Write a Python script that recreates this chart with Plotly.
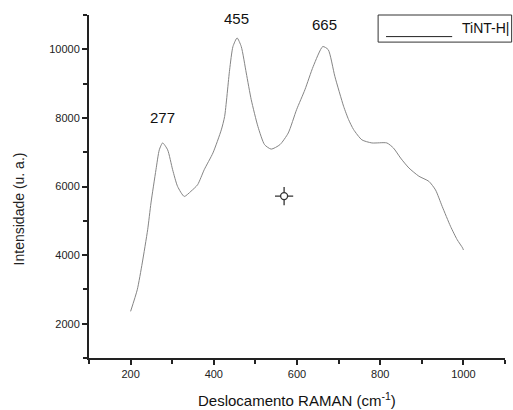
import plotly.graph_objects as go

raman_shift = [200, 216, 228, 241, 249, 261, 269, 277, 289, 301, 313, 329, 345, 361, 377,
               398, 418, 426, 438, 446, 456, 466, 478, 490, 506, 522, 538, 559, 579, 599,
               619, 639, 662, 675, 691, 712, 724, 736, 756, 780, 816, 832, 849, 869, 893,
               917, 933, 949, 969, 985, 998, 1000]
intensity = [2360, 2990, 3770, 4740, 5520, 6490, 7070, 7270, 7070, 6490, 6000, 5710, 5860, 6050, 6490,
             6980, 7650, 8040, 9400, 10080, 10330, 10080, 9310, 8530, 7750, 7220, 7090, 7220, 7560, 8240,
             8820, 9500, 10080, 9990, 9210, 8340, 7950, 7660, 7360, 7270, 7270, 7120, 6830, 6540, 6300,
             6150, 5900, 5420, 4840, 4450, 4210, 4150]

peak_labels = ["277", "455", "665"]
peak_x = [277, 455, 667]
peak_y = [8000, 10900, 10720]

marker_x = [569]
marker_y = [5720]

series_name = "TiNT-H"
x_title = "Deslocamento RAMAN (cm<sup>-1</sup>)"
y_title = "Intensidade (u. a.)"
x_ticks = [200, 400, 600, 800, 1000]
y_ticks = [2000, 4000, 6000, 8000, 10000]
y_tick_text = ["2000", "4000", "6000", "8000", "10000"]

FONT = "Liberation Sans, Arial"

fig = go.Figure()
fig.add_trace(go.Scatter(x=raman_shift, y=intensity, mode="lines",
                         line=dict(color="#858585", width=1, shape="spline", smoothing=0.6),
                         name=series_name, showlegend=False))
# crosshair marker: thin cross beneath a small white-filled circle
fig.add_trace(go.Scatter(x=marker_x, y=marker_y, mode="markers",
                         marker=dict(symbol="cross-thin-open", size=13, color="#333333",
                                     line=dict(width=1.3, color="#333333")),
                         showlegend=False))
fig.add_trace(go.Scatter(x=marker_x, y=marker_y, mode="markers",
                         marker=dict(symbol="circle", size=7, color="white",
                                     line=dict(width=1.3, color="#333333")),
                         showlegend=False))

for t, x, y in zip(peak_labels, peak_x, peak_y):
    fig.add_annotation(x=x, y=y, text=t, showarrow=False,
                       font=dict(family=FONT, size=15, color="#111111"))

# legend box
fig.add_shape(type="rect", xref="paper", yref="paper", x0=0.695, x1=1.016, y0=0.921, y1=1.0,
              line=dict(color="#333333", width=1), fillcolor="white", layer="above")
fig.add_shape(type="line", xref="paper", yref="paper", x0=0.714, x1=0.873, y0=0.937, y1=0.937,
              line=dict(color="#222222", width=1), layer="above")
fig.add_annotation(xref="paper", yref="paper", x=0.891, y=0.962, xanchor="left", yanchor="middle",
                   text=series_name + "|", showarrow=False,
                   font=dict(family=FONT, size=14, color="#111111"))

# axis titles
fig.add_annotation(xref="paper", yref="paper", x=0.499, y=-0.12, text=x_title, showarrow=False,
                   xanchor="center", yanchor="middle",
                   font=dict(family=FONT, size=15, color="#111111"))
fig.add_annotation(xref="paper", yref="paper", x=-0.166, y=0.436, text=y_title, showarrow=False,
                   textangle=-90, xanchor="center", yanchor="middle",
                   font=dict(family=FONT, size=14, color="#222222"))

axis_font = dict(family=FONT, size=11, color="#222222")
fig.update_xaxes(range=[100, 1100], tickvals=x_ticks, showgrid=False, zeroline=False,
                 showline=True, linecolor="#222222", linewidth=2,
                 ticks="outside", ticklen=5, tickwidth=1.5, tickcolor="#222222",
                 minor=dict(ticks="outside", dtick=100, tick0=100, ticklen=4, tickcolor="#222222", tickwidth=1.5),
                 tickfont=axis_font)
fig.update_yaxes(range=[1000, 11000], tickvals=y_ticks, ticktext=y_tick_text, showgrid=False, zeroline=False,
                 showline=True, linecolor="#222222", linewidth=2,
                 ticks="outside", ticklen=5, tickwidth=1.5, tickcolor="#222222",
                 minor=dict(ticks="outside", dtick=1000, tick0=1000, ticklen=4, tickcolor="#222222", tickwidth=1.5),
                 tickfont=axis_font)

fig.update_layout(width=513, height=410, margin=dict(l=89, r=8, t=15, b=52),
                  plot_bgcolor="white", paper_bgcolor="white", showlegend=False)

fig.write_html("out.html")
